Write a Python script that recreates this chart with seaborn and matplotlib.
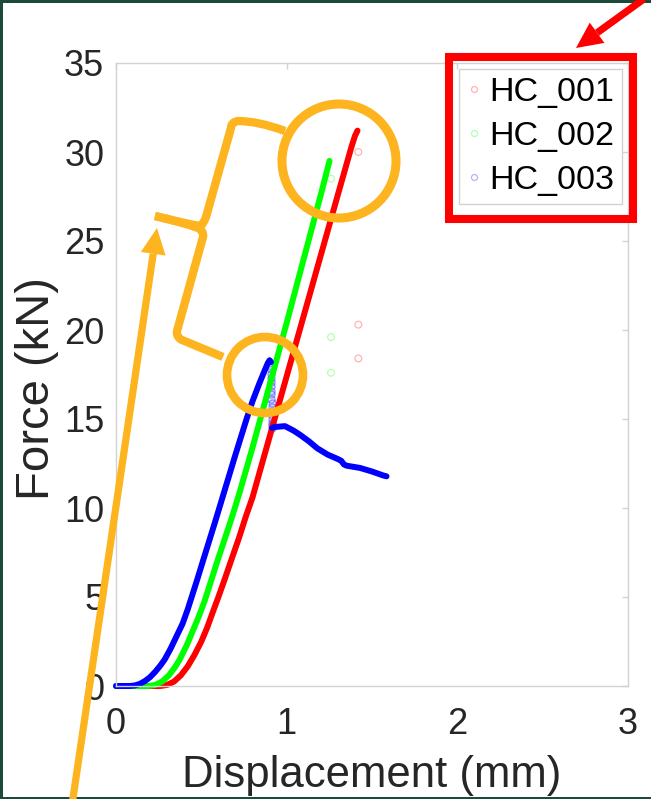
import numpy as np
import pandas as pd
import matplotlib
matplotlib.use("Agg")
import matplotlib.pyplot as plt
import seaborn as sns
from matplotlib.lines import Line2D
from matplotlib.patches import Circle, Rectangle, Polygon, PathPatch
from matplotlib.path import Path

# ---- load-displacement curves (mm, kN) ----
hc001_disp = [0, 0.26, 0.30, 0.34, 0.38, 0.42, 0.46, 0.50, 0.535, 0.569, 0.60, 0.637,
              0.68, 0.72, 0.76, 0.80, 0.90, 1.00, 1.10, 1.20, 1.30, 1.38, 1.40, 1.415]
hc001_force = [0, 0, 0.06, 0.25, 0.6, 1.1, 1.75, 2.5, 3.3, 4.2, 5.0, 6.0,
               7.2, 8.3, 9.5, 10.6, 14.0, 17.4, 20.8, 24.2, 27.6, 30.3, 30.9, 31.2]

hc002_disp = [0, 0.19, 0.23, 0.27, 0.31, 0.345, 0.374, 0.415, 0.45, 0.485, 0.52, 0.55,
              0.59, 0.635, 0.68, 0.725, 0.80, 0.90, 1.00, 1.10, 1.20, 1.251]
hc002_force = [0, 0, 0.06, 0.25, 0.6, 1.05, 1.5, 2.3, 3.1, 3.9, 4.8, 5.7,
               6.9, 8.2, 9.5, 10.9, 13.4, 16.9, 20.4, 24.0, 27.6, 29.5]

hc003_rise_disp = [0, 0.08, 0.11, 0.14, 0.17, 0.20, 0.23, 0.26, 0.286, 0.32, 0.355, 0.39,
                   0.42, 0.47, 0.52, 0.58, 0.64, 0.70, 0.765, 0.80, 0.84, 0.87, 0.89,
                   0.90, 0.908]
hc003_rise_force = [0, 0, 0.03, 0.12, 0.28, 0.5, 0.8, 1.15, 1.5, 2.1, 2.8, 3.5,
                    4.3, 5.8, 7.35, 9.2, 11.1, 13.0, 15.0, 16.0, 17.0, 17.7, 18.15,
                    18.3, 18.2]
hc003_drop_disp = [0.908, 0.908, 0.909, 0.909, 0.910, 0.910, 0.910, 0.911, 0.911,
                   0.912, 0.912, 0.912, 0.913, 0.913, 0.914, 0.914, 0.915]
hc003_drop_force = [18.0, 17.8, 17.55, 17.3, 17.1, 16.85, 16.6, 16.4, 16.15,
                    15.9, 15.7, 15.45, 15.2, 15.0, 14.8, 14.65, 14.5]
hc003_tail_disp = [0.915, 0.93, 0.99, 1.04, 1.08, 1.13, 1.18, 1.24, 1.30, 1.32,
                   1.335, 1.35, 1.43, 1.50, 1.565, 1.585]
hc003_tail_force = [14.5, 14.55, 14.6, 14.35, 14.1, 13.75, 13.35, 13.0, 12.75, 12.65,
                    12.45, 12.38, 12.25, 12.05, 11.83, 11.78]

# ---- isolated readings shown as hollow markers ----
hc001_pts_disp = [1.42, 1.42, 1.42]
hc001_pts_force = [30.0, 20.3, 18.4]
hc002_pts_disp = [1.26, 1.26, 1.26]
hc002_pts_force = [28.5, 19.6, 17.6]

specimens = ["HC_001", "HC_002", "HC_003"]
colors = {"HC_001": "#ff0000", "HC_002": "#00ff00", "HC_003": "#0000ff"}

x_ticks = [0, 1, 2, 3]
y_ticks = [0, 5, 10, 15, 20, 25, 30, 35]

W, H = 651, 799
FONT = "Liberation Sans"

frames = [
    pd.DataFrame({"disp": hc001_disp, "force": hc001_force, "specimen": "HC_001", "seg": 0}),
    pd.DataFrame({"disp": hc002_disp, "force": hc002_force, "specimen": "HC_002", "seg": 1}),
    pd.DataFrame({"disp": hc003_rise_disp, "force": hc003_rise_force, "specimen": "HC_003", "seg": 2}),
    pd.DataFrame({"disp": hc003_tail_disp, "force": hc003_tail_force, "specimen": "HC_003", "seg": 3}),
]
curves = pd.concat(frames, ignore_index=True)

sns.set_theme(style="white")
plt.rcParams["font.family"] = [FONT, "DejaVu Sans"]

fig = plt.figure(figsize=(W / 100, H / 100), dpi=100)
fig.patch.set_facecolor("#1b4a3c")
fig.add_artist(Rectangle((3 / W, 2.5 / H), (W - 3) / W, (H - 5.5) / H,
                         transform=fig.transFigure, facecolor="white",
                         edgecolor="none", zorder=-10))

ax = fig.add_axes([116 / W, 1 - 686 / H, (628 - 116) / W, (686 - 63) / H])
ax.set_facecolor("white")

sns.lineplot(data=curves, x="disp", y="force", hue="specimen", units="seg",
             estimator=None, sort=False, palette=colors, hue_order=specimens,
             legend=False, ax=ax)
for ln in ax.lines:
    ln.set_linewidth(4.3)
    ln.set_solid_capstyle("round")
    ln.set_solid_joinstyle("round")
    ln.set_clip_on(False)

# sparse samples along the sudden load drop of HC_003
sns.scatterplot(x=hc003_drop_disp, y=hc003_drop_force, color="#0000ff", s=26,
                linewidth=1.0, ax=ax, legend=False)
ax.collections[-1].set_facecolor((0.6, 0.6, 1.0, 0.25))
ax.collections[-1].set_edgecolor((0.2, 0.2, 1.0, 0.45))

for xs, ys, name in [(hc001_pts_disp, hc001_pts_force, "HC_001"),
                     (hc002_pts_disp, hc002_pts_force, "HC_002")]:
    sns.scatterplot(x=xs, y=ys, color=colors[name], s=24, linewidth=0.9,
                    ax=ax, legend=False)
    coll = ax.collections[-1]
    coll.set_facecolor("none")
    coll.set_edgecolor(matplotlib.colors.to_rgba(colors[name], 0.3))

ax.set_xlim(0, 3)
ax.set_ylim(0, 35)
ax.set_xticks(x_ticks)
ax.set_yticks(y_ticks)
ax.set_xticklabels([str(v) for v in x_ticks])
ax.set_yticklabels([str(v) for v in y_ticks])

spine_c = "#d2d2d2"
for s in ax.spines.values():
    s.set_visible(True)
    s.set_color(spine_c)
    s.set_linewidth(1.0)
ax.tick_params(axis="both", direction="in", length=4, width=1.0, color=spine_c,
               labelcolor="#262626", labelsize=26, top=True, right=True)
ax.tick_params(axis="x", pad=15)
ax.tick_params(axis="y", pad=8.5)

ax.set_xlabel("Displacement (mm)", fontsize=31.5, color="#262626")
ax.set_ylabel("Force (kN)", fontsize=34, color="#262626")
ax.xaxis.label.set_va("baseline")
ax.xaxis.set_label_coords(0.5, (686 - 787) / 623)
ax.yaxis.label.set_va("center")
ax.yaxis.set_label_coords((37 - 116) / 512, (686 - 389) / 623)

handles = [Line2D([], [], ls="none", marker="o", ms=4.3, mfc="none",
                  mec=matplotlib.colors.to_rgba(colors[n], 0.3), mew=0.9)
           for n in specimens]
leg = ax.legend(handles, specimens, loc="upper right",
                bbox_to_anchor=((622 - 116) / 512, 1 - (69 - 63) / 623),
                borderaxespad=0, fontsize=24.5, frameon=True, fancybox=False,
                framealpha=1, edgecolor="#d2d2d2", handlelength=0.4,
                handletextpad=0.25, borderpad=0.24, labelspacing=0.38)
leg.get_frame().set_linewidth(1.0)
for t in leg.get_texts():
    t.set_color("black")

# ---- callouts drawn in pixel space ----
ov = fig.add_axes([0, 0, 1, 1], zorder=10)
ov.set_xlim(0, W)
ov.set_ylim(H, 0)
ov.set_axis_off()
ov.patch.set_alpha(0)

orange = "#fdb41e"
red = "#ff0000"
ov.add_patch(Circle((339, 161), 57, fill=False, ec=orange, lw=6.5))
ov.add_patch(Circle((265, 375), 38, fill=False, ec=orange, lw=6.2))

C3 = Path.CURVE3
upper = Path([(285, 131), (258, 121), (238, 121), (231, 122), (231, 128),
              (206, 217), (203, 225), (200, 226), (182, 223), (155, 216)],
             [Path.MOVETO, C3, C3, C3, C3, Path.LINETO, C3, C3, C3, C3])
lower = Path([(155, 216), (182, 222), (198, 228), (204, 231), (203, 237),
              (177, 331), (176, 337), (182, 340), (223, 357)],
             [Path.MOVETO, C3, C3, C3, C3, Path.LINETO, C3, C3, Path.LINETO])
for p in (upper, lower):
    ov.add_patch(PathPatch(p, fill=False, ec=orange, lw=6.0,
                           capstyle="butt", joinstyle="round"))


def arrow(tail, tip, color, lw, head_len=26, half_w=12.5):
    tail = np.asarray(tail, float)
    tip = np.asarray(tip, float)
    d = (tip - tail) / np.linalg.norm(tip - tail)
    n = np.array([-d[1], d[0]])
    base = tip - head_len * d
    ov.plot([tail[0], base[0]], [tail[1], base[1]], color=color, lw=lw,
            solid_capstyle="butt")
    ov.add_patch(Polygon([tip, base + half_w * n, base - half_w * n],
                         closed=True, fc=color, ec="none"))


arrow((72, 805), (157, 228), orange, 5.2)
arrow((648, -4), (576, 48), red, 5.2)
ov.add_patch(Rectangle((449, 56.7), 184, 162.3, fill=False, ec=red, lw=5.8))

fig.savefig("out.png", dpi=100, facecolor=fig.get_facecolor())
